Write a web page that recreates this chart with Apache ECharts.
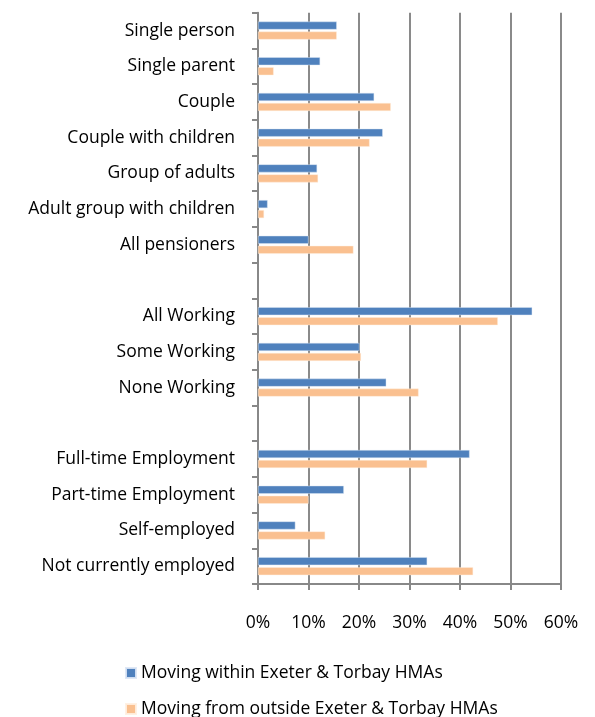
<!DOCTYPE html>
<html>
<head>
<meta charset="utf-8">
<script src="https://cdn.jsdelivr.net/npm/echarts@6/dist/echarts.min.js"></script>
<style>html,body{margin:0;padding:0;background:#fff}#c{width:595px;height:717px}</style>
</head>
<body>
<div id="c"></div>
<script>
var categories = ['Single person','Single parent','Couple','Couple with children','Group of adults','Adult group with children','All pensioners','',
  'All Working','Some Working','None Working','',
  'Full-time Employment','Part-time Employment','Self-employed','Not currently employed'];
var within = [15.6, 12.3, 23.0, 24.7, 11.7, 1.9, 10.0, null, 54.3, 20.1, 25.4, null, 41.9, 17.0, 7.4, 33.5];
var outside = [15.6, 3.1, 26.3, 22.1, 11.9, 1.2, 18.9, null, 47.5, 20.4, 31.8, null, 33.5, 10.0, 13.3, 42.6];
var xTicks = [0, 10, 20, 30, 40, 50, 60];
var seriesNames = ['Moving within Exeter & Torbay HMAs', 'Moving from outside Exeter & Torbay HMAs'];

var FONT = 'Open Sans';
var FS = 17.5;
var chart = echarts.init(document.getElementById('c'));
function legend(name, top) {
  return {
    orient: 'vertical', left: 120, top: top, itemWidth: 10, itemHeight: 10, itemGap: 6,
    icon: 'rect',
    textStyle: {color: '#000', fontSize: FS, fontFamily: FONT, lineHeight: 20},
    data: [name]
  };
}
chart.setOption({
  animation: false,
  textStyle: {fontFamily: FONT},
  grid: {left: 258, right: 34, top: 12.7, bottom: 133, containLabel: false},
  xAxis: {
    type: 'value', min: xTicks[0], max: xTicks[xTicks.length-1], interval: 10,
    axisLine: {show: true, lineStyle: {color: '#888', width: 2}},
    axisTick: {show: true, length: 6, lineStyle: {color: '#888', width: 2}},
    axisLabel: {formatter: '{value}%', color: '#000', fontSize: FS, fontFamily: FONT, margin: 30},
    splitLine: {show: true, lineStyle: {color: '#8a8a8a', width: 2}}
  },
  yAxis: {
    type: 'category', data: categories, inverse: true,
    axisLine: {show: true, lineStyle: {color: '#888', width: 2}},
    axisTick: {show: true, length: 6, lineStyle: {color: '#888', width: 2}},
    axisLabel: {color: '#000', fontSize: FS, fontFamily: FONT, margin: 23}
  },
  legend: [legend(seriesNames[0], 658), legend(seriesNames[1], 694)],
  series: [
    {name: seriesNames[0], type: 'bar', data: within, barWidth: 8, barGap: '25%',
     itemStyle: {color: '#4F81BD', borderColor: 'rgba(220,230,245,0.9)', borderWidth: 0.5}},
    {name: seriesNames[1], type: 'bar', data: outside, barWidth: 8, barGap: '25%',
     itemStyle: {color: '#FAC090', borderColor: 'rgba(255,240,225,0.9)', borderWidth: 0.5}}
  ]
});
</script>
</body>
</html>
